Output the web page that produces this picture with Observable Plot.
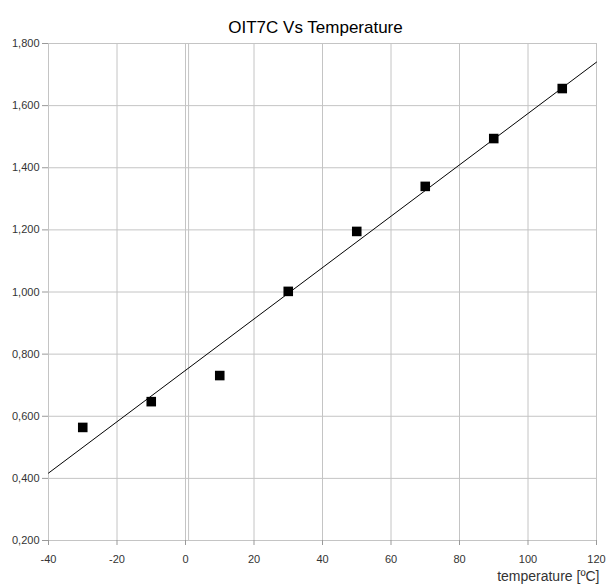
<!DOCTYPE html>
<html>
<head>
<meta charset="utf-8">
<script src="https://cdn.jsdelivr.net/npm/d3@7"></script>
<script src="https://cdn.jsdelivr.net/npm/@observablehq/plot@0.6"></script>
<style>
  html, body { margin: 0; padding: 0; background: #fff; }
  svg { display: block; }
</style>
</head>
<body>
<div id="chart"></div>
<script>
const temperatures = [-30, -10, 10, 30, 50, 70, 90, 110];
const oitValues = [0.564, 0.647, 0.731, 1.002, 1.195, 1.340, 1.494, 1.655];
const xTicks = [-40, -20, 0, 20, 40, 60, 80, 100, 120];
const yTicks = [0.2, 0.4, 0.6, 0.8, 1.0, 1.2, 1.4, 1.6, 1.8];
const zeroLines = [0, 0.9];
const titleText = "OIT7C Vs Temperature";
const xLabel = "temperature [ºC]";

const points = temperatures.map((t, i) => ({ t, v: oitValues[i] }));

// least-squares trend line, drawn across the full x domain
const mx = d3.mean(temperatures), my = d3.mean(oitValues);
const slope = d3.sum(points, d => (d.t - mx) * (d.v - my)) / d3.sum(points, d => (d.t - mx) ** 2);
const intercept = my - slope * mx;
const xDomain = [xTicks[0], xTicks[xTicks.length - 1]];
const trend = xDomain.map(t => ({ t, v: intercept + slope * t }));

const fmtY = d => d.toFixed(3).replace(".", ",");
const fmtX = d => String(d);
const font = "Liberation Sans, Arial, sans-serif";

const chart = Plot.plot({
  width: 608,
  height: 587,
  marginLeft: 48,
  marginRight: 12,
  marginTop: 43,
  marginBottom: 47,
  style: { fontFamily: font, fontSize: "11px", color: "#333", background: "#fff" },
  x: { domain: xDomain, ticks: xTicks, label: null, tickFormat: fmtX },
  y: { domain: [yTicks[0], yTicks[yTicks.length - 1]], ticks: yTicks, label: null, tickFormat: fmtY },
  marks: [
    Plot.gridX(xTicks, { stroke: "#c4c4c4", strokeOpacity: 1, strokeWidth: 1 }),
    Plot.gridY(yTicks, { stroke: "#c4c4c4", strokeOpacity: 1, strokeWidth: 1 }),
    Plot.ruleX(zeroLines, { stroke: "#c4c4c4", strokeWidth: 1 }),
    Plot.axisX(xTicks, { tickSize: 5, tickPadding: 10, stroke: "#999", fill: "#333", fontSize: 11, tickFormat: fmtX }),
    Plot.axisY(yTicks, { tickSize: 6, tickPadding: 3, stroke: "#999", fill: "#333", fontSize: 11, tickFormat: fmtY }),
    Plot.line(trend, { x: "t", y: "v", stroke: "#000", strokeWidth: 1 }),
    Plot.dot(points, { x: "t", y: "v", symbol: "square", r: 5.4, fill: "#000", stroke: "none" }),
    Plot.text([titleText], { frameAnchor: "top", dx: -7, dy: -23, fontSize: 17, fill: "#000", text: d => d }),
    Plot.text([xLabel], { frameAnchor: "bottom-right", textAnchor: "end", dx: 3, dy: 40, fontSize: 14, fill: "#333", text: d => d })
  ]
});
document.getElementById("chart").appendChild(chart);
</script>
</body>
</html>
